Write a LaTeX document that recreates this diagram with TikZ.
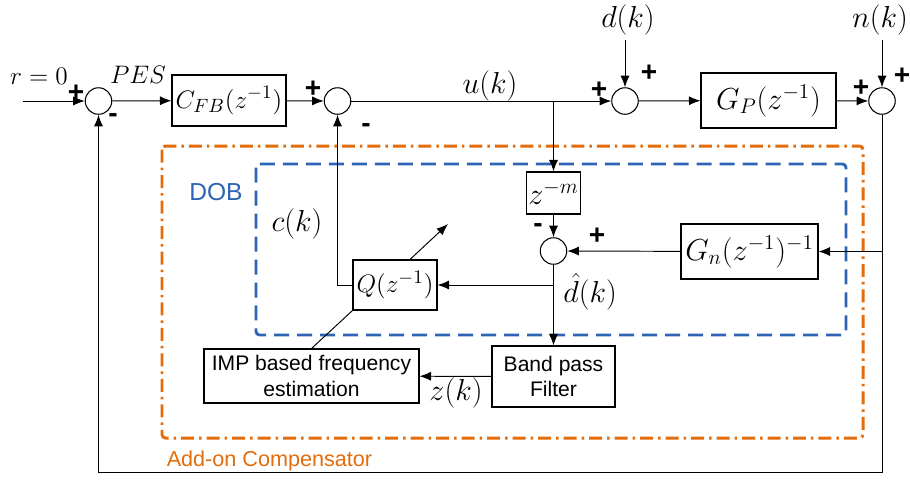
\documentclass[tikz,border=0pt]{standalone}
\usepackage{amsmath}
\usepackage{fontspec}
\setmainfont{Liberation Sans}
\usetikzlibrary{arrows.meta, positioning, calc}

\definecolor{compOrange}{RGB}{228,108,10}
\definecolor{dobBlue}{RGB}{46,100,180}

\tikzset{
  blockbox/.style={draw, line width=0.6pt, inner sep=0pt, font=\fontsize{15}{18}\selectfont},
  textbox/.style={draw, line width=0.6pt, inner sep=0pt, align=center, font=\fontsize{12}{14.5}\selectfont},
  sumnode/.style={draw, circle, line width=0.6pt, minimum size=0.53cm, inner sep=0pt},
  signlabel/.style={inner sep=0pt, font=\fontsize{16}{16}\bfseries\selectfont},
  siglabel/.style={inner sep=0pt, font=\fontsize{17}{20}\selectfont},
  reflabel/.style={inner sep=0pt, font=\fontsize{15}{18}\selectfont},
  flow/.style={-{Latex[length=2.3mm,width=1.8mm]}, line width=0.55pt},
}

\begin{document}
\begin{tikzpicture}[x=0.02cm, y=-0.02cm]
    \useasboundingbox (0,0) rectangle (910,485);

    % compensator and observer frames
    \draw[compOrange, line width=1.7pt, dash pattern=on 0.26cm off 0.1cm on 0.05cm off 0.1cm, rounded corners=2pt] (162,146) rectangle (863,438);
    \draw[dobBlue, line width=1.6pt, dash pattern=on 0.3cm off 0.16cm, rounded corners=2pt] (256,164) rectangle (846,335);
    \node[text=dobBlue, inner sep=0pt, font=\fontsize{14}{16}\selectfont] (doblabel) at (216,192) {DOB};
    \node[text=compOrange, inner sep=0pt, font=\fontsize{12.3}{14}\selectfont] (addonlabel) at (269.5,461) {Add-on Compensator};

    % summing junctions
    \node[sumnode] (sum1) at (98.5,101) {};
    \node[sumnode] (sum2) at (337.5,101) {};
    \node[sumnode] (sum3) at (625,101) {};
    \node[sumnode] (sum4) at (882,101) {};
    \node[sumnode] (sum5) at (553.5,251) {};

    % blocks
    \node[blockbox, minimum width=2.28cm, minimum height=1.02cm] (cfb) at (229,100.5) {$C_{FB}(z^{-1})$};
    \node[blockbox, minimum width=2.7cm, minimum height=1.1cm, font=\fontsize{17}{20}\selectfont] (gp) at (768.5,100.5) {$G_P(z^{-1})$};
    \node[blockbox, minimum width=1.08cm, minimum height=0.84cm, font=\fontsize{17}{20}\selectfont] (zm) at (553.5,193) {$z^{-m}$};
    \node[blockbox, minimum width=2.74cm, minimum height=1.1cm, font=\fontsize{17}{20}\selectfont] (gn) at (749.5,251.5) {$G_n(z^{-1})^{-1}$};
    \node[blockbox, minimum width=1.68cm, minimum height=1.0cm] (q) at (395,285) {$Q(z^{-1})$};
    \node[textbox, minimum width=2.46cm, minimum height=1.22cm] (bpf) at (553.5,376.5) {Band pass\\Filter};
    \node[textbox, minimum width=4.3cm, minimum height=1.08cm] (imp) at (311.5,376) {IMP based frequency\\estimation};

    % signal labels
    \node[reflabel] (rlabel) at (39,76) {$r=0$};
    \node[reflabel] (peslabel) at (138,75) {$PES$};
    \node[siglabel] (ulabel) at (490,86) {$u(k)$};
    \node[siglabel] (dlabel) at (628,20) {$d(k)$};
    \node[siglabel] (nlabel) at (880,20) {$n(k)$};
    \node[siglabel] (clabel) at (297,224) {$c(k)$};
    \node[siglabel, anchor=west] (dhatlabel) at (563,292) {$\hat{d}(k)$};
    \node[siglabel] (zlabel) at (456,393) {$z(k)$};

    % signs
    \node[signlabel] (s1a) at (76,93) {+};
    \node[signlabel] (s1b) at (113,118) {-};
    \node[signlabel] (s2a) at (313,89) {+};
    \node[signlabel] (s2b) at (366,128) {-};
    \node[signlabel] (s3a) at (599,90) {+};
    \node[signlabel] (s3b) at (649,73) {+};
    \node[signlabel] (s4a) at (861,88) {+};
    \node[signlabel] (s4b) at (902,76) {+};
    \node[signlabel] (s5a) at (538,228) {-};
    \node[signlabel] (s5b) at (597,236) {+};

    % free ends and branch points
    \coordinate (rin) at (23,101);
    \coordinate (din) at (625,40);
    \coordinate (nin) at (882,40);
    \coordinate (ubranch) at (553.5,101);
    \coordinate (ybranch) at (882,251.5);
    \coordinate (fbcorner) at (882,472);
    \coordinate (dhat) at (553.5,285);
    \coordinate (qtip) at (448,224);

    % main loop
    \draw[flow] (rin) -- (sum1);
    \draw[flow] (sum1) -- (cfb);
    \draw[flow] (cfb) -- (sum2);
    \draw[flow] (sum2) -- (sum3);
    \draw[flow] (din) -- (sum3);
    \draw[flow] (sum3) -- (gp);
    \draw[flow] (gp) -- (sum4);
    \draw[flow] (nin) -- (sum4);
    \draw[flow] (sum4) -- (fbcorner) -| (sum1);

    % add-on compensator
    \draw[flow] (ubranch) -- (zm);
    \draw[flow] (zm) -- (sum5);
    \draw[flow] (ybranch) -- (gn);
    \draw[flow] (gn) -- (sum5);
    \draw[flow] (sum5) -- (bpf);
    \draw[flow] (dhat) -- (q);
    \draw[flow] (q) -| (sum2);
    \draw[flow] (bpf) -- (imp);
    \draw[line width=0.55pt] (imp.north) -- (q.south west);
    \draw[flow] ([xshift=0.3cm]q.north) -- (qtip);
\end{tikzpicture}
\end{document}
